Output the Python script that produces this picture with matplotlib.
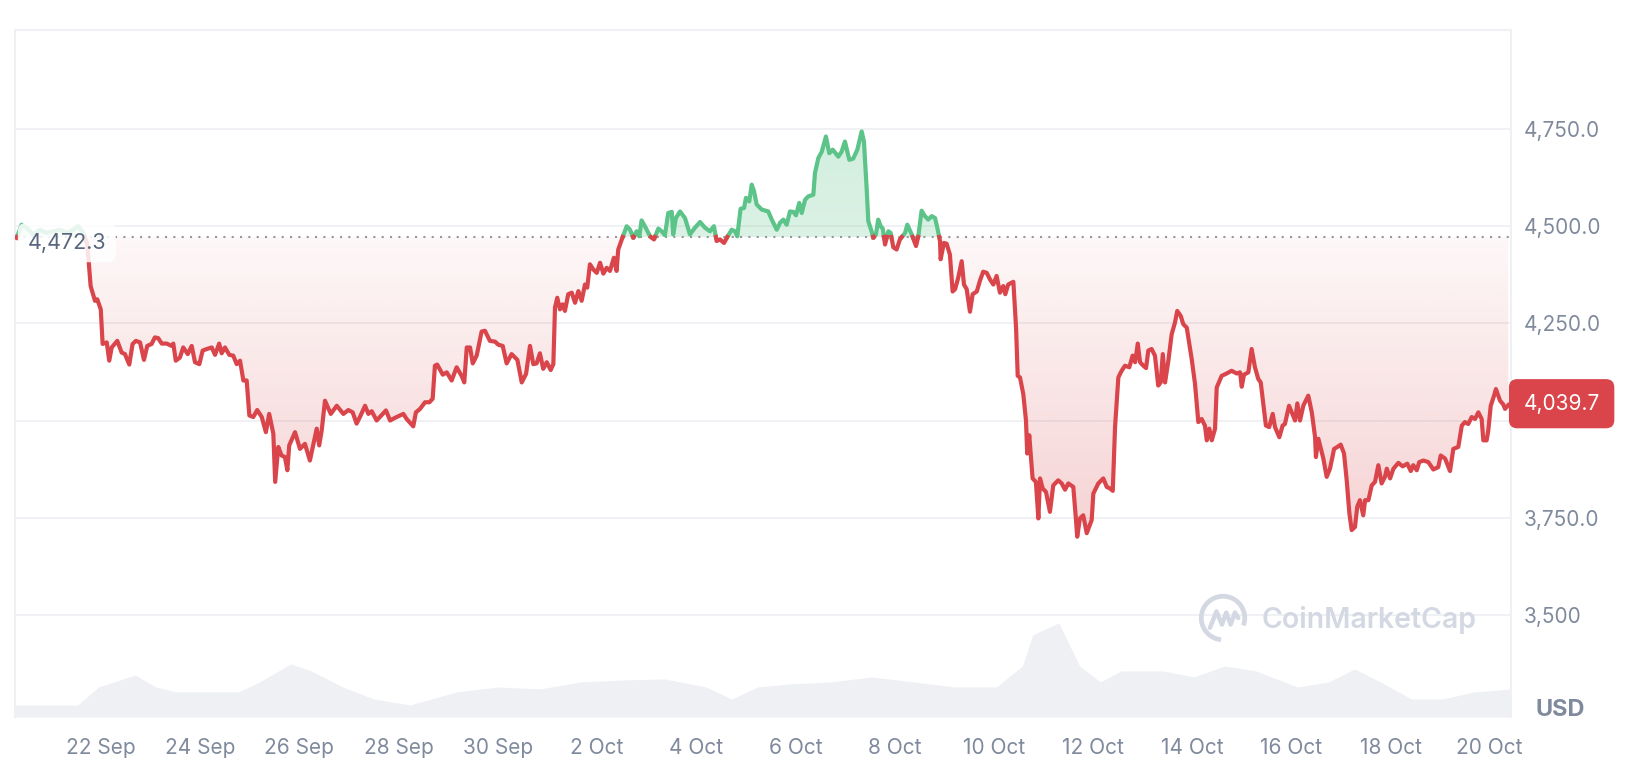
import numpy as np
import pandas as pd
import matplotlib
matplotlib.use('Agg')
import matplotlib.pyplot as plt
from matplotlib.colors import to_rgb
from matplotlib.path import Path
from matplotlib.patches import Arc

plt.rcParams['font.family'] = ['Inter', 'DejaVu Sans']

# ETH / USD, hours counted from 20 Sep 00:00
START = pd.Timestamp('2025-09-20 00:00')
BASE = 4472.3
LAST = 4039.7

hours = [
    7.2, 9.6, 12.0, 15.2, 18.5, 21.7, 24.9, 28.2, 31.4, 34.6, 37.0, 39.4, 41.4,
    42.3, 43.0, 45.1, 46.2, 47.9, 48.8, 50.8, 52.0, 53.2, 55.9, 58.0, 59.6, 61.7, 63.3, 64.9, 66.9,
    68.8, 70.4, 72.5, 74.1, 75.7, 77.4, 79.8, 82.2, 83.0, 84.2, 86.2, 87.8, 90.0, 91.9, 93.5, 95.6,
    97.2, 99.2, 101.6, 103.2, 105.2, 106.4, 108.0, 110.1, 112.0, 113.7, 115.3, 116.9, 118.5, 119.8,
    121.7, 123.6, 125.8, 127.8, 129.4, 131.4, 132.3, 133.8, 135.4, 137.0, 138.2,
    139.1, 141.9, 144.3, 146.7, 149.1, 152.4, 153.6, 154.8, 156.4, 159.2, 162.1, 165.3, 167.7, 169.8,
    171.7, 173.3, 175.8, 177.4, 179.0, 181.4, 185.9, 187.9, 190.3, 194.3, 195.9, 199.1, 200.4, 202.4,
    204.8, 206.9, 208.5, 209.6, 210.7, 213.4, 215.3, 217.7, 220.1, 222.5, 223.8, 225.0, 226.6, 227.9,
    229.8, 232.2, 233.8, 236.2, 238.7, 240.3, 242.4, 244.3, 246.7, 249.5, 251.6, 253.7, 255.6, 257.2,
    258.8, 260.4, 262.0, 263.7, 265.6, 266.9,
    267.7, 268.8, 270.1, 271.4, 272.5, 274.1, 275.8, 277.4, 279.0, 280.6, 282.2, 283.3, 284.6, 286.2,
    287.9, 289.5, 291.1, 292.7, 294.3, 296.2, 297.5, 298.3, 300.0, 302.4, 304.0, 305.6, 307.2, 308.5,
    309.6, 311.2, 313.7, 315.6, 317.7, 319.3, 320.9, 322.5, 324.2, 324.9, 326.2, 328.2, 330.6, 333.0,
    335.4, 337.9, 340.3, 342.7, 344.6, 345.9, 347.5, 349.5, 350.8, 353.2, 354.8, 355.9, 357.5, 359.2,
    360.1, 361.7, 362.9, 364.0, 365.3, 367.7, 370.9, 372.6, 375.0, 376.6, 378.2, 379.8, 381.4, 383.0,
    384.3, 385.9, 387.1, 388.7, 390.3, 392.7, 393.5, 395.1, 396.8, 398.8,
    400.4, 402.1, 404.8, 406.4, 408.0, 410.1, 412.0, 414.0, 416.1, 417.2, 418.5, 419.3, 420.9, 421.7,
    423.0, 424.1, 425.3, 426.3, 427.4, 429.0, 430.1, 431.4, 433.0, 434.6, 437.1, 438.2, 440.3, 442.4,
    443.5, 445.1, 446.7, 448.3, 450.0, 451.6, 452.7, 454.0, 454.3, 455.9, 457.2, 458.8, 460.1, 461.3,
    462.8, 464.5, 465.6, 466.9, 468.5, 469.8, 471.8, 473.4, 474.9, 476.6, 478.2, 479.8, 481.4, 483.0,
    484.6, 485.6, 487.0, 489.5, 490.8, 491.6, 492.7, 494.3, 495.6, 496.2, 497.2, 497.9, 498.8, 500.4,
    501.6, 502.4, 503.7, 505.3, 507.2, 508.8, 511.2, 512.9, 514.5, 516.1, 518.5, 519.8, 520.4, 521.7,
    523.3, 525.0, 527.4, 528.2,
    530.6, 533.0, 534.7, 536.3, 537.6, 538.7, 540.3, 541.9, 543.5, 545.6, 547.2, 548.4, 549.7, 550.8,
    552.4, 553.7, 554.8, 556.4, 558.0, 559.6, 560.8, 561.8, 562.9, 564.5, 566.1, 567.7, 568.8, 570.5,
    571.7, 573.4, 575.8, 577.4, 579.0, 580.6, 582.2, 583.1, 584.3, 585.5, 587.1, 587.9, 590.3, 592.7,
    595.1, 597.6, 599.2, 600.0, 601.1, 603.2, 604.8, 606.4, 608.0, 609.2, 611.7, 613.3, 615.0, 616.1,
    618.2, 619.8, 620.9, 622.9, 624.2, 625.8, 626.9, 628.2, 629.8, 632.2, 633.9, 635.5, 635.9, 637.1,
    639.5, 641.1, 642.7, 644.7, 646.3, 647.9, 649.5, 650.8, 652.1, 653.2, 654.8, 655.9, 657.2, 658.8,
    659.7, 661.3, 662.9, 664.5, 666.1, 667.7, 669.3, 670.2, 671.8, 673.4, 675.8, 677.9, 680.1, 681.8,
    683.0, 684.7, 685.9, 687.9, 690.3, 692.7, 695.1, 696.3, 698.4, 700.8, 702.4, 704.8, 706.5, 708.0,
    709.6, 711.3, 712.9, 714.5, 716.1, 716.9, 718.5, 719.3, 720.5, 722.1, 723.0, 725.0, 726.6, 727.4,
    729.0,
]

price = [
    4470, 4504, 4496, 4479, 4491, 4483, 4487, 4491, 4483, 4491, 4500, 4483, 4453,
    4393, 4346, 4308, 4312, 4286, 4197, 4201, 4154, 4188, 4205, 4175, 4171, 4144, 4197, 4205, 4201,
    4156, 4192, 4197, 4214, 4212, 4198, 4198, 4192, 4198, 4154, 4162, 4188, 4171, 4192, 4150, 4145,
    4180, 4184, 4188, 4169, 4198, 4173, 4188, 4169, 4167, 4145, 4154, 4103, 4103, 4013,
    4009, 4027, 4009, 3970, 4017, 3966, 3842, 3932, 3910, 3906, 3872,
    3936, 3970, 3927, 3940, 3897, 3979, 3936, 3974, 4051, 4017, 4038, 4017, 4027, 4021,
    3992, 4009, 4038, 4017, 4024, 4000, 4026, 4000, 4007, 4017, 4004, 3985, 4021, 4030,
    4047, 4047, 4056, 4141, 4144, 4118, 4124, 4103, 4137, 4115, 4098, 4188, 4188, 4147,
    4167, 4229, 4231, 4205, 4203, 4195, 4192, 4147, 4171, 4156, 4098, 4120, 4192, 4145,
    4147, 4173, 4133, 4150, 4130, 4145,
    4291, 4316, 4286, 4299, 4282, 4325, 4329, 4303, 4333, 4308, 4350, 4342, 4402, 4389,
    4380, 4406, 4378, 4393, 4385, 4419, 4385, 4440, 4466, 4500, 4491, 4470, 4487, 4474,
    4515, 4500, 4474, 4466, 4494, 4487, 4477, 4534, 4537, 4479, 4521, 4538, 4521, 4479,
    4496, 4511, 4496, 4487, 4500, 4462, 4466, 4457, 4470, 4491, 4487, 4474, 4545, 4547,
    4573, 4564, 4607, 4590, 4556, 4543, 4538, 4517, 4491, 4509, 4517, 4504, 4538, 4537,
    4528, 4560, 4534, 4568, 4577, 4581, 4637, 4675, 4692, 4731,
    4688, 4697, 4679, 4692, 4718, 4671, 4674, 4697, 4744, 4718, 4598, 4513, 4487, 4470,
    4479, 4517, 4500, 4494, 4453, 4487, 4483, 4446, 4440, 4466, 4483, 4504, 4479, 4449,
    4474, 4540, 4526, 4517, 4526, 4521, 4496, 4462, 4415, 4457, 4455, 4427, 4332, 4338,
    4367, 4410, 4350, 4338, 4280, 4325, 4332, 4361, 4383, 4380, 4363, 4350, 4372, 4329,
    4346, 4325, 4350, 4357, 4239, 4115, 4111, 4068, 4000, 3915, 3962, 3915, 3851, 3842,
    3748, 3851, 3825, 3816, 3765, 3833, 3846, 3838, 3822, 3838, 3829, 3744, 3701, 3748,
    3756, 3710, 3744, 3812,
    3838, 3851, 3829, 3825, 3819, 3983, 4111, 4128, 4141, 4137, 4167, 4150, 4198, 4150,
    4141, 4135, 4180, 4184, 4167, 4090, 4098, 4171, 4098, 4154, 4222, 4252, 4282, 4269,
    4248, 4239, 4158, 4094, 3996, 4004, 3987, 3949, 3979, 3949, 3979, 4085, 4115, 4121,
    4128, 4121, 4124, 4087, 4118, 4124, 4184, 4137, 4107, 4098, 3987, 3983, 4017, 3983,
    3957, 3987, 3991, 4038, 4021, 4000, 4044, 4000, 4038, 4064, 4021, 3957, 3906, 3953,
    3902, 3855, 3876, 3927, 3932, 3938, 3915, 3846, 3761, 3718, 3726, 3778, 3795, 3756,
    3795, 3795, 3833, 3842, 3885, 3838, 3855, 3876, 3851, 3876, 3891, 3882, 3889, 3870,
    3885, 3872, 3893, 3897, 3893, 3874, 3880, 3910, 3902, 3870, 3927, 3932, 3987, 3996,
    3991, 4009, 4004, 4021, 4004, 3949, 3949, 3974, 4038, 4064, 4081, 4051, 4041, 4030,
    LAST,
]

vol_hours = [6.4, 36.8, 46.8, 54.4, 64.4, 74.5, 84.5, 114.6, 124.7, 139.8, 149.8, 164.9, 180.0,
             197.5, 220.1, 240.2, 260.3, 280.4, 300.5, 320.6, 340.7, 353.2, 365.8, 380.9, 401.0,
             421.0, 441.1, 461.2, 481.3, 493.9, 498.9, 511.5, 521.5, 531.6, 541.6, 561.7, 576.8,
             591.8, 606.9, 627.0, 642.0, 654.6, 667.1, 682.2, 697.3, 712.4, 730.3]
volume = [1.2, 1.2, 3.0, 3.5, 4.2, 3.0, 2.5, 2.5, 3.5, 5.3, 4.6, 3.0, 1.8, 1.2, 2.5, 3.0, 2.8,
          3.5, 3.7, 3.8, 3.0, 1.8, 3.0, 3.3, 3.5, 4.0, 3.5, 3.0, 3.0, 5.1, 8.2, 9.4, 5.1, 3.5,
          4.6, 4.6, 4.0, 5.1, 4.6, 3.0, 3.5, 4.8, 3.5, 1.8, 1.8, 2.5, 2.8]

y_ticks = [3500, 3750, 4000, 4250, 4500, 4750]
y_labels = ['3,500', '3,750.0', '', '4,250.0', '4,500.0', '4,750.0']
tick_hours = list(range(48, 721, 48))

assert len(hours) == len(price)

GREEN = '#5cc389'
RED = '#d9454a'
GREY_TXT = '#808a9d'
XMIN, XMAX = 6.4, 730.3
YMIN, YMAX = 3237, 5005

fig = plt.figure(figsize=(16.28, 7.62), dpi=100)
pos = [15 / 1628, 45 / 762, 1496 / 1628, 687 / 762]

# volume underneath
ax_vol = fig.add_axes(pos)
ax_vol.fill_between(vol_hours, volume, 0, color='#eef0f4', lw=0)
ax_vol.set_xlim(XMIN, XMAX)
ax_vol.set_ylim(0, 68.6)
ax_vol.axis('off')

ax = fig.add_axes(pos)
ax.patch.set_alpha(0)

# split the series where it crosses the base price
t = np.array(hours, dtype=float)
p = np.array(price, dtype=float)
tt, pp = [t[0]], [p[0]]
for i in range(1, len(t)):
    a, b = p[i - 1] - BASE, p[i] - BASE
    if a * b < 0:
        f = a / (a - b)
        tt.append(t[i - 1] + f * (t[i] - t[i - 1]))
        pp.append(BASE)
    tt.append(t[i])
    pp.append(p[i])
tt = np.array(tt)
pp = np.array(pp)


def gradient_fill(mask, color, lo_alpha, hi_alpha, y0, y1):
    poly = ax.fill_between(tt, pp, BASE, where=mask, interpolate=True, color='none', lw=0)
    path = Path.make_compound_path(*poly.get_paths())
    rgba = np.zeros((256, 1, 4))
    rgba[..., :3] = to_rgb(color)
    rgba[..., 3] = np.linspace(lo_alpha, hi_alpha, 256).reshape(-1, 1)
    im = ax.imshow(rgba, extent=[XMIN, XMAX, y0, y1], origin='lower', aspect='auto',
                   zorder=1, interpolation='bilinear')
    im.set_clip_path(path, transform=ax.transData)


gradient_fill(pp <= BASE, RED, 0.36, 0.04, YMIN, BASE)
gradient_fill(pp >= BASE, GREEN, 0.22, 0.34, BASE, YMAX)

up = np.where(pp >= BASE, pp, np.nan)
dn = np.where(pp <= BASE, pp, np.nan)
ax.plot(tt, up, color=GREEN, lw=3.0, zorder=3, solid_joinstyle='round')
ax.plot(tt, dn, color=RED, lw=3.0, zorder=3, solid_joinstyle='round')

for y in y_ticks:
    ax.axhline(y, color='#eff1f4', lw=1.4, zorder=0.5)
ax.axhline(BASE, color='#97979b', lw=1.5, ls=(0, (1, 3)), zorder=2)

ax.set_xlim(XMIN, XMAX)
ax.set_ylim(YMIN, YMAX)

for side in ['left', 'right', 'top']:
    ax.spines[side].set_color('#eef0f3')
    ax.spines[side].set_linewidth(1.5)
ax.spines['bottom'].set_visible(False)

ax.yaxis.tick_right()
ax.set_yticks(y_ticks, y_labels)
ax.set_xticks(tick_hours, [(START + pd.Timedelta(hours=h)).strftime('%-d %b') for h in tick_hours])
ax.tick_params(axis='y', length=0, pad=9, labelsize=15, labelcolor=GREY_TXT)
ax.tick_params(axis='x', length=0, pad=15, labelsize=15, labelcolor=GREY_TXT)

# price labels
ax.annotate(f'{BASE:,.1f}', xy=(0, BASE), xycoords=ax.get_yaxis_transform(),
            xytext=(9, -4), textcoords='offset points', ha='left', va='center',
            fontsize=15.5, color='#58667e', zorder=10, annotation_clip=False,
            bbox=dict(boxstyle='round,pad=0.45,rounding_size=0.4', fc='white', ec='none', alpha=0.85))
ax.annotate(f'{LAST:,.1f}', xy=(1, LAST), xycoords=ax.get_yaxis_transform(),
            xytext=(9, 1), textcoords='offset points', ha='left', va='center',
            fontsize=15, color='white', zorder=10, annotation_clip=False,
            bbox=dict(boxstyle='round,pad=0.7,rounding_size=0.4', fc=RED, ec='none'))

fig.text(1560 / 1628, 1 - 710 / 762, 'USD', ha='center', va='center', fontsize=17,
         fontweight='bold', color=GREY_TXT)

# watermark
fig.text(1262 / 1628, 1 - 620 / 762, 'CoinMarketCap', ha='left', va='center', fontsize=20.5,
         fontweight='semibold', color='#d3d8e3')
logo = fig.add_axes([1198 / 1628, 1 - 643 / 762, 50 / 1628, 50 / 762])
logo.set_xlim(-1.15, 1.15)
logo.set_ylim(-1.15, 1.15)
logo.set_aspect('equal')
logo.axis('off')
logo.add_patch(Arc((0, 0), 2.0, 2.0, theta1=-20, theta2=265, color='#d3d8e3', lw=3.4))
logo.plot([-0.6, -0.3, -0.05, 0.15, 0.35, 0.55, 0.7], [-0.45, 0.3, -0.3, 0.25, -0.3, 0.25, 0.0],
          color='#d3d8e3', lw=3.2, solid_capstyle='round', solid_joinstyle='round')

fig.savefig('out.png', dpi=100)
